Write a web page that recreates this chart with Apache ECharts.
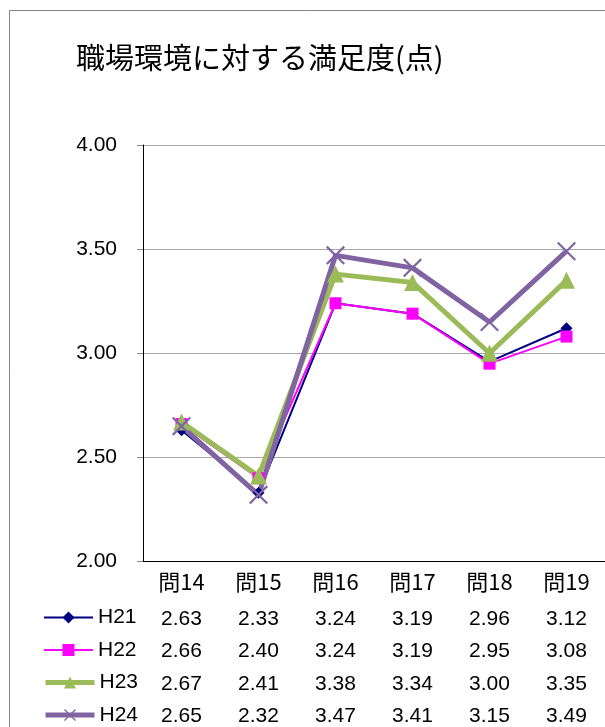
<!DOCTYPE html>
<html>
<head>
<meta charset="utf-8">
<script src="https://cdn.jsdelivr.net/npm/echarts@6/dist/echarts.min.js"></script>
<style>
html, body { margin: 0; padding: 0; background: #fff; }
#main { width: 605px; height: 727px; }
</style>
</head>
<body>
<div id="main"></div>
<script>
// 軸・データ
var categories = ['問14', '問15', '問16', '問17', '問18', '問19'];
var yTicks = [2.0, 2.5, 3.0, 3.5, 4.0];
var seriesNames = ['H21', 'H22', 'H23', 'H24'];
var h21 = [2.63, 2.33, 3.24, 3.19, 2.96, 3.12];
var h22 = [2.66, 2.40, 3.24, 3.19, 2.95, 3.08];
var h23 = [2.67, 2.41, 3.38, 3.34, 3.00, 3.35];
var h24 = [2.65, 2.32, 3.47, 3.41, 3.15, 3.49];
var allData = [h21, h22, h23, h24];

var numFont = '"Liberation Sans", Arial, sans-serif';
var jpFont = '"Noto Sans CJK JP", sans-serif';

var xMark = 'path://M0,0.8L0.8,0L10,9.2L9.2,10Z M9.2,0L10,0.8L0.8,10L0,9.2Z';

var styles = [
  { color: '#000080', width: 2, symbol: 'diamond', size: 12 },
  { color: '#FF00FF', width: 2, symbol: 'rect', size: 12 },
  { color: '#9BBB59', width: 5, symbol: 'triangle', size: 17 },
  { color: '#8064A2', width: 5, symbol: xMark, size: 19 }
];

// データ表（系列ごとの値を軸ラベルとして並べる）
var xAxes = [{
  type: 'category',
  data: categories,
  boundaryGap: true,
  axisLine: { lineStyle: { color: '#000', width: 1 } },
  axisTick: { show: false },
  axisLabel: { color: '#000', fontSize: 22, fontFamily: jpFont, margin: 9 }
}];
allData.forEach(function (vals, i) {
  xAxes.push({
    type: 'category',
    data: vals.map(function (v) { return v.toFixed(2); }),
    position: 'bottom',
    offset: 37 + 32.5 * i,
    axisLine: { show: false },
    axisTick: { show: false },
    splitLine: { show: false },
    axisLabel: { color: '#000', fontSize: 21, fontFamily: numFont, margin: 10 }
  });
});

var series = seriesNames.map(function (name, i) {
  var s = styles[i];
  return {
    name: name,
    type: 'line',
    data: allData[i],
    symbol: s.symbol,
    symbolSize: s.size,
    lineStyle: { color: s.color, width: s.width },
    itemStyle: { color: s.color },
    emphasis: { disabled: true },
    animation: false
  };
});

// 凡例は行ごとに1つずつ置く
var legends = seriesNames.map(function (name, i) {
  var s = styles[i];
  return {
    orient: 'vertical',
    left: 43,
    top: 607 + 32.5 * i,
    padding: 0,
    itemWidth: 49,
    itemHeight: 15,
    data: [{ name: name, lineStyle: { width: s.width, color: s.color }, itemStyle: { color: s.color } }],
    selectedMode: false,
    textStyle: { color: '#000', fontSize: 21, fontFamily: numFont }
  };
});

var chart = echarts.init(document.getElementById('main'));
chart.setOption({
  backgroundColor: '#fff',
  animation: false,
  title: {
    text: '職場環境に対する満足度(点)',
    left: 71,
    top: 38,
    textStyle: { fontSize: 29, fontWeight: 'normal', color: '#000', fontFamily: jpFont }
  },
  graphic: [{
    type: 'rect',
    shape: { x: 9.5, y: 10.5, width: 700, height: 800 },
    style: { fill: 'none', stroke: '#868686', lineWidth: 1 },
    silent: true
  }],
  legend: legends,
  grid: { left: 143, top: 145, right: -1, bottom: 165, containLabel: false },
  xAxis: xAxes,
  yAxis: {
    type: 'value',
    min: yTicks[0],
    max: yTicks[yTicks.length - 1],
    interval: 0.5,
    axisLine: { show: true, lineStyle: { color: '#000', width: 1 } },
    axisTick: { show: true, length: 6, lineStyle: { color: '#888' } },
    splitLine: { lineStyle: { color: '#A6A6A6', width: 1 } },
    axisLabel: {
      color: '#000', fontSize: 21, fontFamily: numFont, margin: 26,
      formatter: function (v) { return v.toFixed(2); }
    }
  },
  series: series
});
</script>
</body>
</html>
